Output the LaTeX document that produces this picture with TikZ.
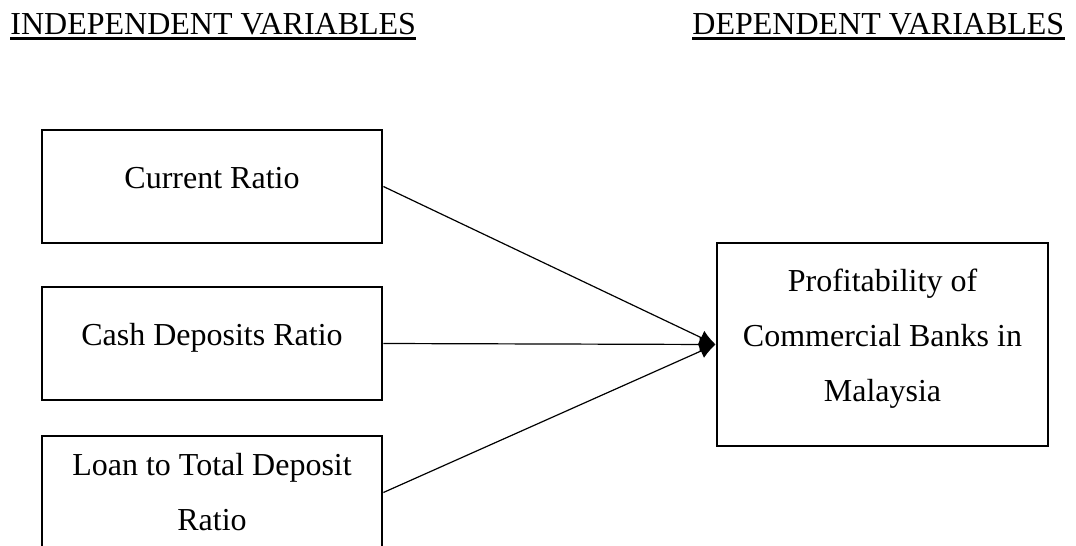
\documentclass[tikz,border=0pt]{standalone}
\usepackage{fontspec}
\setmainfont{Liberation Serif}
\usetikzlibrary{positioning,arrows.meta}

\begin{document}
\begin{tikzpicture}[
    x=0.5pt, y=-0.5pt,
    font=\fontsize{16}{27.5}\selectfont,
    box/.style={draw,line width=1.4pt,align=center,inner sep=0pt},
    varbox/.style={box,minimum width=170pt,minimum height=56.5pt},
    oneline/.style={text height=8pt,text depth=6.5pt},
    head/.style={anchor=base west,inner sep=0pt},
    uline/.style={line width=1.4pt},
    arr/.style={-{Latex[length=8pt,width=7.5pt]},line width=0.6pt}
  ]
  \useasboundingbox (0,0) rectangle (1076,546);
  \clip (0,0) rectangle (1076,546);

  % column headings
  \node[head] (indep) at (10,34) {INDEPENDENT VARIABLES};
  \node[head] (dep) at (692,34) {DEPENDENT VARIABLES};
  \draw[uline] ([yshift=-2.3pt]indep.base west) -- ([yshift=-2.3pt]indep.base east);
  \draw[uline] ([yshift=-2.3pt]dep.base west) -- ([yshift=-2.3pt]dep.base east);

  % independent variables
  \node[varbox,oneline] (current) at (212,186.5) {Current Ratio};
  \node[varbox,oneline] (cash) at (212,343.5) {Cash Deposits Ratio};
  \node[varbox] (loan) at (212,492.5) {Loan to Total Deposit\\Ratio};

  % dependent variable
  \node[box,minimum width=165.5pt,minimum height=101.5pt,text depth=9.5pt] (profit) at (882.5,344.5)
    {Profitability of\\Commercial Banks in\\Malaysia};

  \draw[arr] (current.east) -- (profit.west);
  \draw[arr] (cash.east) -- (profit.west);
  \draw[arr] (loan.east) -- (profit.west);
\end{tikzpicture}
\end{document}
